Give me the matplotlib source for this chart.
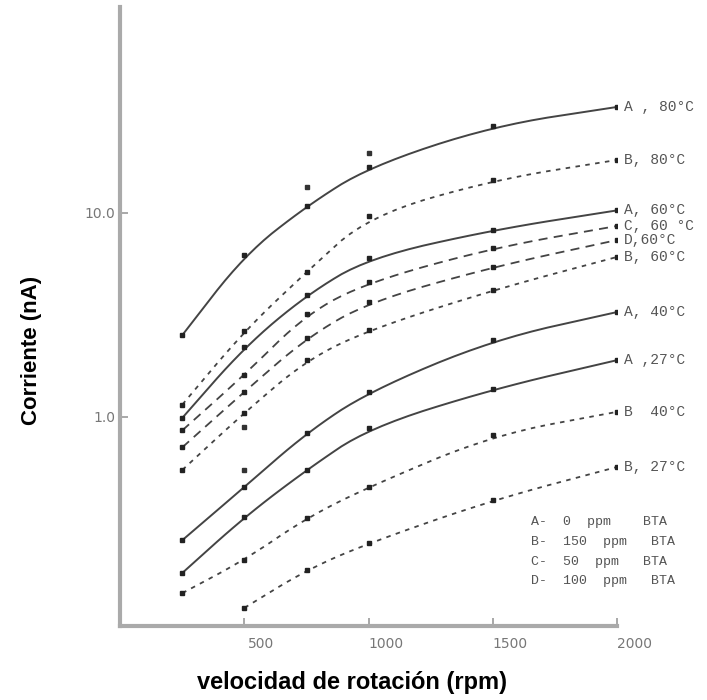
import numpy as np
import matplotlib
matplotlib.use('Agg')
import matplotlib.pyplot as plt
from matplotlib.transforms import ScaledTranslation

rpm = [250, 500, 750, 1000, 1500, 2000]
rpm_b27 = [500, 750, 1000, 1500, 2000]

a80 = [2.52, 6.22, 10.8, 16.8, 26.7, 33.1]
b80 = [1.15, 2.64, 5.14, 9.67, 14.5, 18.2]
a60 = [0.99, 2.20, 3.96, 6.02, 8.26, 10.3]
c60 = [0.86, 1.61, 3.20, 4.59, 6.74, 8.64]
d60 = [0.71, 1.33, 2.44, 3.66, 5.44, 7.37]
b60 = [0.55, 1.05, 1.90, 2.67, 4.19, 6.09]
a40 = [0.249, 0.454, 0.835, 1.33, 2.39, 3.27]
a27 = [0.172, 0.323, 0.55, 0.883, 1.37, 1.90]
b40 = [0.137, 0.199, 0.32, 0.454, 0.816, 1.06]
b27 = [0.116, 0.178, 0.241, 0.392, 0.569]

# loose experimental points off the curves
extra_x = [750, 1000, 500, 500]
extra_y = [13.4, 19.7, 0.89, 0.55]

legend_lines = ['A-  0  ppm    BTA', 'B-  150  ppm   BTA', 'C-  50  ppm   BTA', 'D-  100  ppm   BTA']


def rounded(xs, ys, passes=3):
    # corner cutting (Chaikin) in (x, log y) so the hand-drawn curves look smooth
    p = np.column_stack([np.asarray(xs, float), np.log10(ys)])
    for _ in range(passes):
        q = [p[0]]
        for a, b in zip(p[:-1], p[1:]):
            q.append(0.75 * a + 0.25 * b)
            q.append(0.25 * a + 0.75 * b)
        q.append(p[-1])
        p = np.array(q)
    return p[:, 0], 10 ** p[:, 1]


fig = plt.figure(figsize=(7.07, 7.0), dpi=100)
ax = fig.add_axes([0.170, 0.1057, 0.703, 0.884])

ink = '#444444'
short = (2.5, 3.0)
longd = (5.0, 3.5)

series = [
    (rpm, a80, None, 'A , 80°C'),
    (rpm, b80, short, 'B, 80°C'),
    (rpm, a60, None, 'A, 60°C'),
    (rpm, c60, longd, 'C, 60 °C'),
    (rpm, d60, longd, 'D,60°C'),
    (rpm, b60, short, 'B, 60°C'),
    (rpm, a40, None, 'A, 40°C'),
    (rpm, a27, None, 'A ,27°C'),
    (rpm, b40, short, 'B  40°C'),
    (rpm_b27, b27, short, 'B, 27°C'),
]

for xs, ys, dash, name in series:
    sx, sy = rounded(xs, ys)
    ln, = ax.plot(sx, sy, color=ink, lw=1.4)
    if dash is not None:
        ln.set_linestyle((0, dash))
        ln.set_linewidth(1.3)
    ax.plot(xs, ys, ls='none', marker='s', ms=3, color='#222222')
    ax.annotate(name, xy=(xs[-1], ys[-1]), xytext=(5, 0), textcoords='offset points',
                va='center', ha='left', fontsize=10.5, family='Liberation Mono',
                color='#555555', annotation_clip=False)

ax.plot(extra_x, extra_y, ls='none', marker='s', ms=3, color='#333333')

ax.set_yscale('log')
ax.set_ylim(0.0945, 102)
ax.set_xlim(0, 2000)

ax.set_xticks([500, 1000, 1500, 2000])
ax.set_xticklabels(['500', '1000', '1500', '2000'])
ax.set_yticks([1.0, 10.0])
ax.set_yticklabels(['1.0', '10.0'])
ax.yaxis.set_minor_locator(matplotlib.ticker.NullLocator())
ax.tick_params(direction='in', length=6, width=1.2, color='#999999', labelcolor='#777777', labelsize=10)
ax.tick_params(axis='x', pad=8)
for lab in ax.get_xticklabels():
    lab.set_transform(lab.get_transform() + ScaledTranslation(0.17, 0, fig.dpi_scale_trans))

for s in ['top', 'right']:
    ax.spines[s].set_visible(False)
for s in ['left', 'bottom']:
    ax.spines[s].set_color('#aaaaaa')
    ax.spines[s].set_linewidth(3)

ax.set_ylabel('Corriente (nA)', fontsize=16, fontweight='bold', family='Liberation Sans', va='center')
ax.yaxis.set_label_coords(-0.178, 0.446)
ax.set_xlabel('velocidad de rotación (rpm)', fontsize=17, fontweight='bold', family='Liberation Sans', va='center')
ax.xaxis.set_label_coords(0.467, -0.092)

for i, t in enumerate(legend_lines):
    ax.text(0.826, 0.168 - i * 0.032, t, transform=ax.transAxes, fontsize=9.5,
            family='Liberation Mono', color='#555555', va='center', ha='left', clip_on=False)

fig.savefig('out.png', dpi=100)
